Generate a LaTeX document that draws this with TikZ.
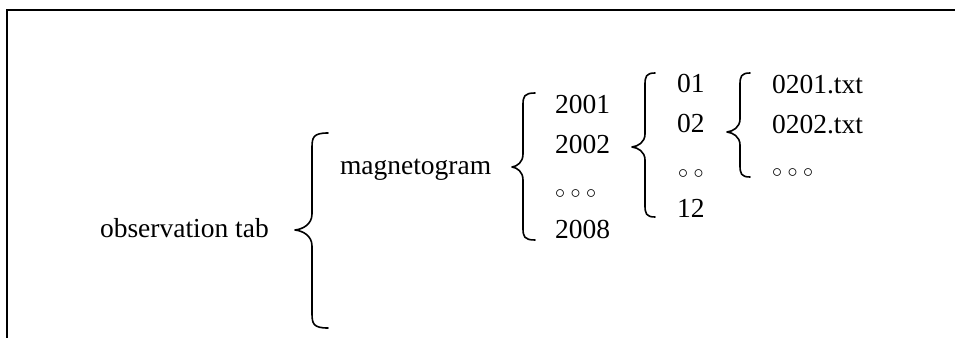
\documentclass[tikz,border=0pt]{standalone}
\usepackage{fontspec}
\setmainfont{Liberation Serif}
% #1 end x, #2 vertical x, #3 tip x, #4 top y, #5 tip y, #6 bottom y, #7 corner size, #8 tip span
\newcommand{\mybrace}[8]{%
  \draw[bracestyle] (#1,#4) .. controls (#2+1,#4) and (#2,#4+0.3*#7) .. (#2,#4+#7)
    -- (#2,#5-#8) .. controls (#2,#5-0.35*#8) and (#3+0.45*#2-0.45*#3,#5-0.05*#8) .. (#3,#5)
    .. controls (#3+0.45*#2-0.45*#3,#5+0.05*#8) and (#2,#5+0.35*#8) .. (#2,#5+#8)
    -- (#2,#6-#7) .. controls (#2,#6-0.3*#7) and (#2+1,#6) .. (#1,#6);}
\newcommand{\smallo}{\ensuremath{\scriptstyle{\circ}}}
\begin{document}
\begin{tikzpicture}[x=0.5pt,y=-0.5pt,
  bracestyle/.style={line width=0.8pt,line join=round,line cap=round},
  framestyle/.style={line width=1pt},
  lbl/.style={anchor=base west,inner sep=0pt,outer sep=0pt,font=\fontsize{13.75}{16}\selectfont}]
\useasboundingbox (0,0) rectangle (955,338);
\coordinate (ftl) at (7,10);
\coordinate (ftr) at (955,10);
\coordinate (fbl) at (7,338);
\draw[framestyle] (fbl) -- (ftl) -- (ftr);

\node[lbl] (obs) at (100,237) {observation tab};
\node[lbl] (mag) at (340,174) {magnetogram};

\node[lbl] (y1) at (555,113) {2001};
\node[lbl] (y2) at (555,153) {2002};
\node[lbl] (y3) at (555,198) {\smallo\kern2.8pt\smallo\kern2.8pt\smallo};
\node[lbl] (y8) at (555,238) {2008};

\node[lbl] (m1) at (677,92) {01};
\node[lbl] (m2) at (677,132) {02};
\node[lbl] (m3) at (678,178) {\smallo\kern2.8pt\smallo};
\node[lbl] (m12) at (677,217) {12};

\node[lbl] (f1) at (772,93) {0201.txt};
\node[lbl] (f2) at (772,133) {0202.txt};
\node[lbl] (f3) at (772,177) {\smallo\kern2.8pt\smallo\kern2.8pt\smallo};

\mybrace{328}{312}{295}{133}{230}{328}{15}{16}
\mybrace{535}{523}{512}{93}{167}{240}{12}{13}
\mybrace{655}{645}{632}{73}{147}{217}{12}{13}
\mybrace{750}{740}{727}{73}{132}{177}{12}{13}
\end{tikzpicture}
\end{document}
